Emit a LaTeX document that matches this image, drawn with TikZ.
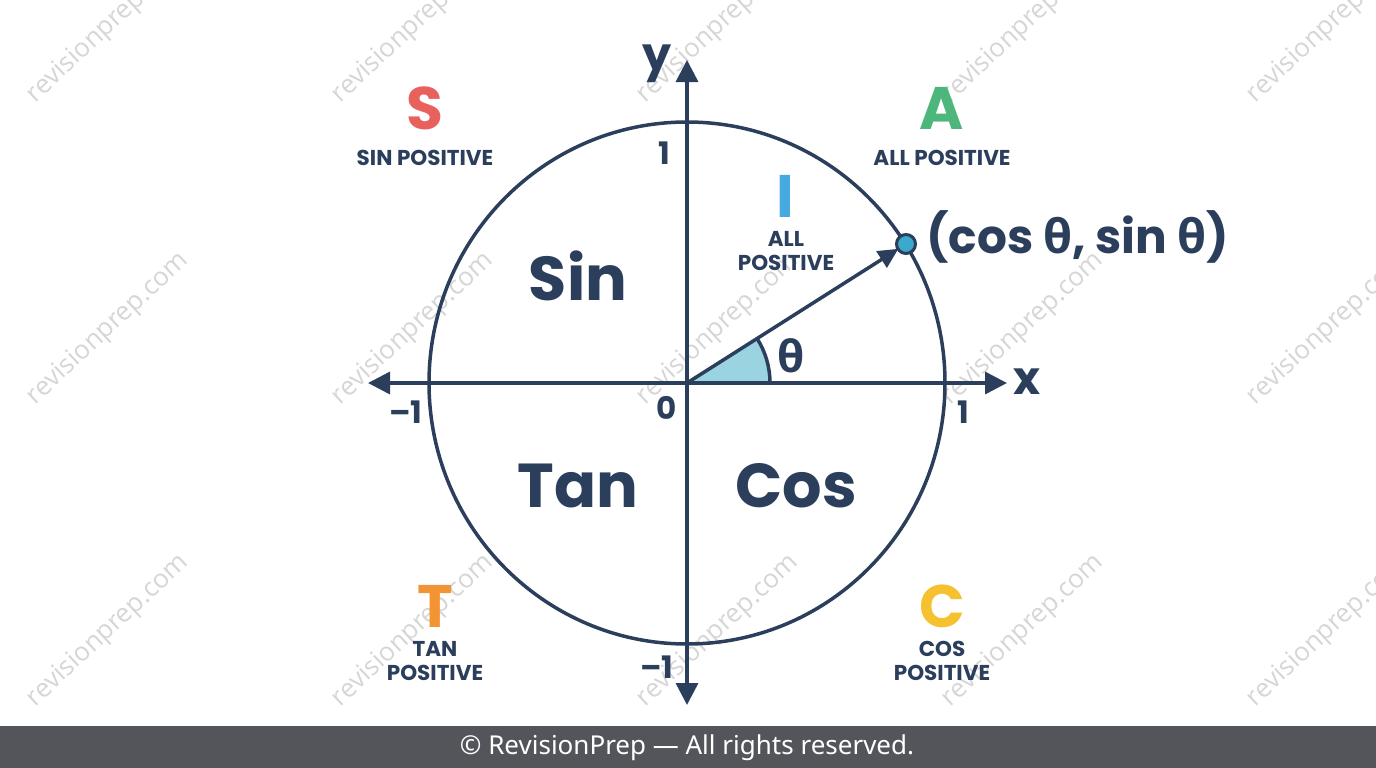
\documentclass[tikz,border=0pt]{standalone}
\usepackage{fontspec}
\setmainfont{Poppins}
\newfontfamily\grk{Open Sans}
\newfontfamily\footfont{Noto Sans}
\newfontfamily\wmfont{Open Sans}
\usetikzlibrary{arrows.meta}
\definecolor{navy}{HTML}{2B3F5C}
\definecolor{sred}{HTML}{E8615C}
\definecolor{agreen}{HTML}{4DB67A}
\definecolor{iblue}{HTML}{46A9E0}
\definecolor{torange}{HTML}{F29433}
\definecolor{cyellow}{HTML}{F5C12E}
\definecolor{wedgec}{HTML}{9BD4E1}
\definecolor{dotc}{HTML}{3BA9CB}
\definecolor{footbg}{HTML}{54555A}
\definecolor{wmgray}{HTML}{D6D6D6}
\tikzset{
  axisline/.style={draw=navy, line width=3.5pt},
  tip/.style={-{Triangle[length=22pt,width=22pt]}},
  big/.style={text=navy, font=\fontsize{62}{62}\selectfont\bfseries, inner sep=0pt},
  letter/.style={font=\fontsize{60}{60}\selectfont\bfseries, inner sep=0pt},
  small/.style={text=navy, font=\fontsize{21.5}{24}\selectfont\bfseries, align=center, inner sep=0pt},
  tick/.style={text=navy, font=\fontsize{31}{31}\selectfont\bfseries, inner sep=0pt},
  axlab/.style={text=navy, font=\fontsize{46}{46}\selectfont\bfseries, inner sep=0pt},
  wm/.style={text=wmgray, font=\fontsize{26}{26}\selectfont\wmfont, rotate=43, inner sep=0pt, anchor=south west},
}
\begin{document}
\begin{tikzpicture}[x=1pt,y=-1pt]
\useasboundingbox (0,0) rectangle (1376,768);
\fill[white] (0,0) rectangle (1376,768);
% watermarks
\foreach \i in {0,...,4}{
  \foreach \j in {0,1,2}{
    \node[wm] (wm\i\j) at ({40+305*\i},{108+302*\j}) {revisionprep.com};
  }
}
% geometry
\coordinate (O) at (687,383);
\coordinate (xl) at (368,383);
\coordinate (xr) at (1007,383);
\coordinate (yt) at (687,60);
\coordinate (yb) at (687,705);
\coordinate (P) at (906,244);
\coordinate (A0) at (770,383);
% wedge
\fill[wedgec] (O) -- (A0) arc[start angle=0, end angle=-32.4, radius=83] -- cycle;
\draw[navy, line width=3.5pt] (A0) arc[start angle=0, end angle=-32.4, radius=83];
% circle
\draw[navy, line width=3.5pt] (O) ellipse [x radius=258, y radius=261];
% axes
\draw[axisline, tip] (O) -- (xr);
\draw[axisline, tip] (O) -- (xl);
\draw[axisline, tip] (O) -- (yt);
\draw[axisline, tip] (O) -- (yb);
% radius vector
\draw[navy, line width=3.5pt, -{Triangle[length=20pt,width=19pt]}, shorten >=9pt] (O) -- (P);
\node[circle, fill=dotc, draw=navy, line width=3pt, minimum size=19pt, inner sep=0pt] (dot) at (P) {};
\node[anchor=west, text=navy, font=\fontsize{47}{47}\selectfont\bfseries, inner sep=0pt] (coord) at (926,237) {(cos {\grk\bfseries θ}, sin {\grk\bfseries θ})};
\node[text=navy, font=\fontsize{44}{44}\selectfont\grk\bfseries, inner sep=0pt] (theta) at (791,356) {θ};
% axis labels
\node[axlab] (ylab) at (657,64) {y};
\node[axlab] (xlab) at (1027,382) {x};
% ticks
\node[tick] (t1) at (664,153) {1};
\node[tick] (r1) at (963,412) {1};
\node[tick] (l1) at (406,412) {–1};
\node[tick] (b1) at (657,667) {–1};
\node[tick] (zero) at (667,408) {0};
% quadrant words
\node[big] (sin) at (578,276) {Sin};
\node[big] (tan) at (578,486) {Tan};
\node[big] (cos) at (796,486) {Cos};
\node[letter, text=iblue] (I) at (785,196) {I};
\node[small] (allp) at (786,251) {ALL\\POSITIVE};
% corner letters
\node[letter, text=sred] (S) at (425,108) {S};
\node[small] (sinp) at (425,158) {SIN POSITIVE};
\node[letter, text=agreen] (A) at (942,108) {A};
\node[small] (allp2) at (942,158) {ALL POSITIVE};
\node[letter, text=torange] (T) at (435,606) {T};
\node[small] (tanp) at (435,661) {TAN\\POSITIVE};
\node[letter, text=cyellow] (C) at (942,606) {C};
\node[small] (cosp) at (942,661) {COS\\POSITIVE};
% footer
\fill[footbg] (0,726) rectangle (1376,768);
\node[text=white, font=\fontsize{26}{26}\selectfont\footfont, inner sep=0pt] (foot) at (687,748) {© RevisionPrep — All rights reserved.};
\end{tikzpicture}
\end{document}
